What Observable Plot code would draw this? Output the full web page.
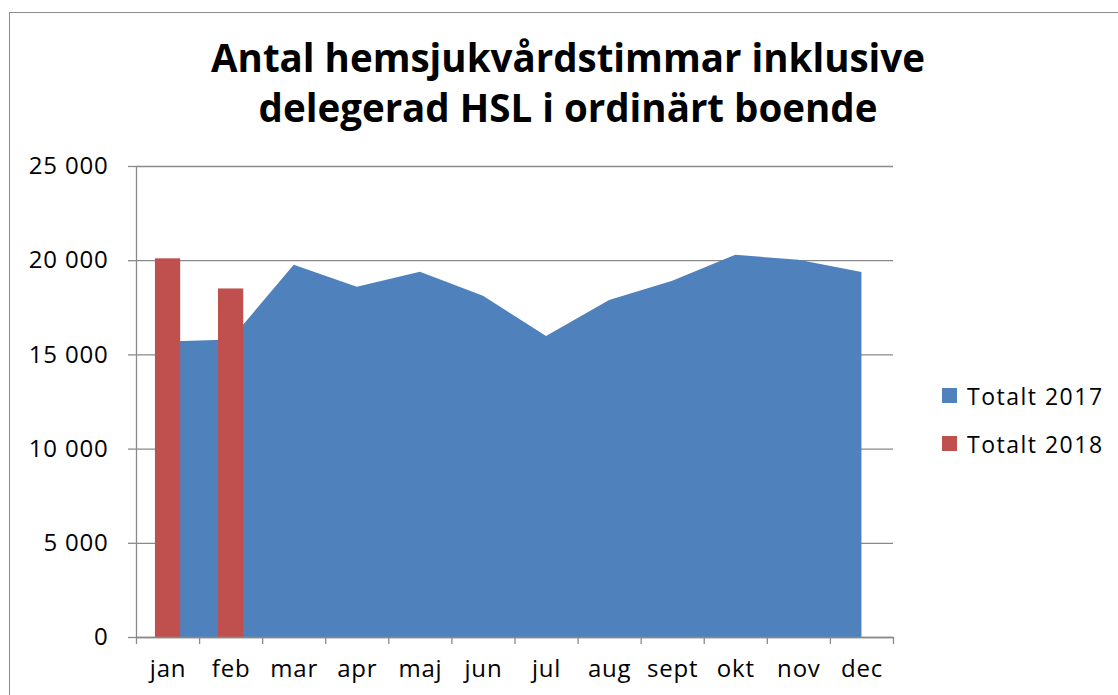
<!DOCTYPE html>
<html>
<head>
<meta charset="utf-8">
<script src="https://cdn.jsdelivr.net/npm/d3@7"></script>
<script src="https://cdn.jsdelivr.net/npm/@observablehq/plot@0.6"></script>
<style>
  html, body { margin: 0; padding: 0; background: #fff; overflow: hidden; width: 1118px; height: 695px; }
  #wrap { position: relative; width: 1118px; height: 695px; font-family: "Open Sans", Lato, sans-serif; }
  #frame { position: absolute; left: 9px; top: 12px; width: 1300px; height: 900px; border: 1px solid #8c8c8c; box-sizing: border-box; }
  #title { position: absolute; left: 118px; top: 32px; width: 900px; text-align: center; font-weight: 700; font-size: 38.5px; line-height: 50px; color: #000; }
  #chart { position: absolute; left: 0; top: 0; }
  .leg { position: absolute; left: 942px; font-size: 23px; letter-spacing: 1.5px; color: #000; line-height: 22px; white-space: nowrap; }
  .leg span.sw { position: absolute; left: 0; top: 3px; width: 15px; height: 15px; }
  .leg span.tx { position: absolute; left: 25px; top: 0; }
</style>
</head>
<body>
<div id="wrap">
  <div id="frame"></div>
  <div id="title">Antal hemsjukvårdstimmar inklusive<br>delegerad HSL i ordinärt boende</div>
  <div id="chart"></div>
  <div class="leg" style="top:385px"><span class="sw" style="background:#4F81BD"></span><span class="tx">Totalt 2017</span></div>
  <div class="leg" style="top:433px"><span class="sw" style="background:#C0504D"></span><span class="tx">Totalt 2018</span></div>
</div>
<script>
const months = ["jan","feb","mar","apr","maj","jun","jul","aug","sept","okt","nov","dec"];
const total2017 = [15690, 15790, 19760, 18590, 19390, 18110, 15980, 17890, 18910, 20290, 20020, 19370];
const months2018 = ["jan","feb"];
const total2018 = [20100, 18500];
const yTicks = [0, 5000, 10000, 15000, 20000, 25000];

const colors = { s2017: "#4F81BD", s2018: "#C0504D", grid: "#8a8a8a" };

const data2017 = months.map((m, i) => ({ month: m, idx: i, value: total2017[i] }));
const data2018 = months2018.map((m, i) => ({ month: m, idx: months.indexOf(m), value: total2018[i] }));

const fmt = d => d === 0 ? "0" : d3.format(",")(d).replace(/,/g, " ");

const chart = Plot.plot({
  width: 1118,
  height: 695,
  marginLeft: 136,
  marginRight: 225,
  marginTop: 166,
  marginBottom: 58,
  style: { fontFamily: "'Open Sans', Lato, sans-serif", fontSize: "24px", letterSpacing: "0.8px", color: "#000", background: "transparent" },
  x: { type: "linear", domain: [0, 12], label: null },
  y: { domain: [0, 25000], label: null },
  marks: [
    Plot.gridY(yTicks, { stroke: colors.grid, strokeOpacity: 1, strokeWidth: 1.3 }),
    Plot.areaY(data2017, { x: d => d.idx + 0.5, y: "value", fill: colors.s2017 }),
    Plot.rectY(data2018, { x1: d => d.idx + 0.3, x2: d => d.idx + 0.7, y: "value", fill: colors.s2018 }),
    Plot.ruleX([0], { stroke: colors.grid, strokeWidth: 1.3 }),
    Plot.ruleY([0], { stroke: colors.grid, strokeWidth: 1.3 }),
    Plot.axisY({ ticks: yTicks, tickSize: 8, tickPadding: 20, tickFormat: fmt, stroke: colors.grid, strokeWidth: 1.3, label: null, fontSize: 24 }),
    Plot.axisX({ ticks: d3.range(0, 13), tickSize: 7, tickFormat: () => "", stroke: colors.grid, strokeWidth: 1.3, label: null }),
    Plot.axisX({ ticks: months.map((m, i) => i + 0.5), tickSize: 0, tickPadding: 22, tickFormat: v => months[Math.round(v - 0.5)], label: null, fontSize: 24 })
  ]
});
document.getElementById("chart").appendChild(chart);
</script>
</body>
</html>
